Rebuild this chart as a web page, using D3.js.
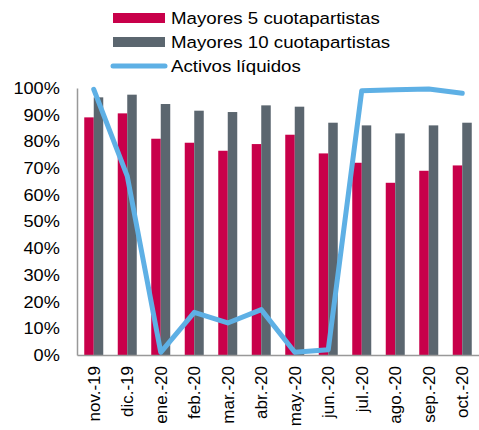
<!DOCTYPE html>
<html>
<head>
<meta charset="utf-8">
<script src="https://cdn.jsdelivr.net/npm/d3@7"></script>
<style>
  body { margin: 0; background: #fff; }
  svg { font-family: "Liberation Sans", Arial, sans-serif; }
</style>
</head>
<body>
<div id="chart"></div>
<script>
const months = ['nov.-19', 'dic.-19', 'ene.-20', 'feb.-20', 'mar.-20', 'abr.-20',
  'may.-20', 'jun.-20', 'jul.-20', 'ago.-20', 'sep.-20', 'oct.-20'];
const top5 = [89, 90.5, 81, 79.5, 76.5, 79, 82.5, 75.5, 72, 64.5, 69, 71];
const top10 = [96.5, 97.5, 94, 91.5, 91, 93.5, 93, 87, 86, 83, 86, 87];
const liquid = [99.5, 67, 1, 16, 12, 17, 1, 2, 99, 99.3, 99.6, 98];
const yTicks = [0, 10, 20, 30, 40, 50, 60, 70, 80, 90, 100];
const seriesNames = ['Mayores 5 cuotapartistas', 'Mayores 10 cuotapartistas', 'Activos líquidos'];

const W = 479, H = 430;
const margin = { top: 88, right: 0, bottom: 75, left: 77 };
const width = W - margin.left - margin.right;
const height = H - margin.top - margin.bottom;

const red = '#c8004a', gray = '#5b666f', blue = '#5eb0e5';

const svg = d3.select('#chart').append('svg')
  .attr('width', W).attr('height', H);

const g = svg.append('g')
  .attr('transform', `translate(${margin.left},${margin.top})`);

const x = d3.scaleBand().domain(months).range([0, width]);
const y = d3.scaleLinear().domain([0, 100]).range([height, 0]);
const barW = 9.5;

// bars
g.append('g').selectAll('rect')
  .data(months.map((m, i) => ({ m, v: top5[i] })))
  .enter().append('rect')
  .attr('x', d => x(d.m) + x.bandwidth() / 2 - barW)
  .attr('y', d => y(d.v))
  .attr('width', barW)
  .attr('height', d => height - y(d.v))
  .attr('fill', red);

g.append('g').selectAll('rect')
  .data(months.map((m, i) => ({ m, v: top10[i] })))
  .enter().append('rect')
  .attr('x', d => x(d.m) + x.bandwidth() / 2)
  .attr('y', d => y(d.v))
  .attr('width', barW)
  .attr('height', d => height - y(d.v))
  .attr('fill', gray);

// axes
const yAxis = g.append('g')
  .call(d3.axisLeft(y).tickValues(yTicks).tickFormat(d => d + '%').tickSize(0).tickPadding(16));
yAxis.select('.domain').attr('stroke', '#999').attr('stroke-width', 1.5);
yAxis.selectAll('text').attr('font-size', 17).attr('fill', '#000')
  .attr('transform', 'scale(1.07,1)');

const xAxis = g.append('g')
  .attr('transform', `translate(0,${height})`)
  .call(d3.axisBottom(x).tickSize(0).tickPadding(0));
xAxis.select('.domain').attr('stroke', '#999').attr('stroke-width', 1.5);
xAxis.selectAll('text')
  .attr('font-size', 17).attr('fill', '#000')
  .attr('transform', 'rotate(-90)')
  .attr('text-anchor', 'end')
  .attr('x', -11).attr('y', 0).attr('dy', '0.35em');

// line
const line = d3.line()
  .x((d, i) => x(months[i]) + x.bandwidth() / 2)
  .y(d => y(d));
g.append('path')
  .datum(liquid)
  .attr('d', line)
  .attr('fill', 'none')
  .attr('stroke', blue)
  .attr('stroke-width', 5)
  .attr('stroke-linejoin', 'round')
  .attr('stroke-linecap', 'round');

// legend
const legend = svg.append('g').attr('transform', 'translate(113,0)');
const rows = [
  { name: seriesNames[0], color: red, type: 'rect' },
  { name: seriesNames[1], color: gray, type: 'rect' },
  { name: seriesNames[2], color: blue, type: 'line' }
];
rows.forEach((r, i) => {
  const cy = 18 + i * 24;
  if (r.type === 'rect') {
    legend.append('rect').attr('x', 0).attr('y', cy - 5).attr('width', 52).attr('height', 10).attr('fill', r.color);
  } else {
    legend.append('line').attr('x1', 0).attr('x2', 52).attr('y1', cy).attr('y2', cy)
      .attr('stroke', r.color).attr('stroke-width', 5).attr('stroke-linecap', 'round');
  }
  legend.append('text')
    .attr('transform', `translate(58,${cy + 6}) scale(1.1,1)`)
    .attr('font-size', 17).attr('fill', '#000').text(r.name);
});
</script>
</body>
</html>
